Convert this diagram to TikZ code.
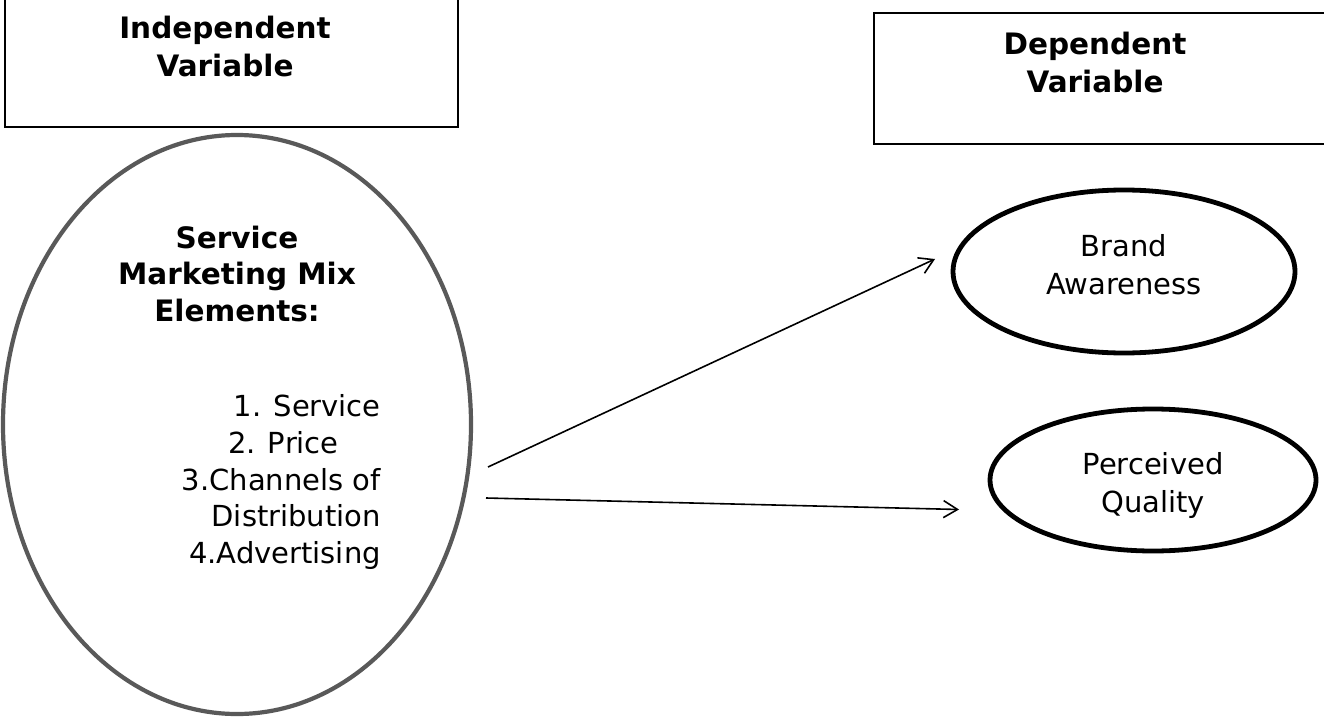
\documentclass[tikz,border=0pt]{standalone}
\usepackage{fontspec}
\setmainfont{DejaVu Sans}
\usetikzlibrary{shapes.geometric,arrows.meta}
\tikzset{
  hdrbox/.style={draw=black, line width=2pt, rectangle, inner sep=0pt},
  mixell/.style={draw=black!65, line width=4.2pt, ellipse, inner sep=0pt},
  depell/.style={draw=black, line width=4.8pt, ellipse, inner sep=0pt},
  hdrtext/.style={align=center, inner sep=0pt, font=\fontsize{29.5}{38}\selectfont\bfseries},
  bodytext/.style={align=center, inner sep=0pt, font=\fontsize{29}{38}\selectfont},
  listtext/.style={align=right, inner sep=0pt, font=\fontsize{29}{36.75}\selectfont},
  link/.style={draw=black, line width=1.6pt, -{Straight Barb[length=14pt,width=17pt,line width=1.6pt]}}
}
\begin{document}
\begin{tikzpicture}[x=1pt,y=-1pt]
\useasboundingbox (0,0) rectangle (1324,722);
\clip (0,0) rectangle (1324,722);
\fill[white] (0,0) rectangle (1324,722);
% header boxes
\node[hdrbox, minimum width=453pt, minimum height=150pt, anchor=south west] (ib) at (4,128) {};
\node[hdrbox, minimum width=470pt, minimum height=131pt, anchor=north west] (db) at (873,12) {};
\node[hdrtext] (ibt) at (225,46.5) {Independent\\Variable};
\node[hdrtext] (dbt) at (1095,62.5) {Dependent\\Variable};
% left ellipse
\node[mixell, minimum width=468pt, minimum height=579pt] (mix) at (237,424.5) {};
\node[hdrtext, font=\fontsize{29.5}{36.5}\selectfont\bfseries] (mixt) at (237,274) {Service\\Marketing Mix\\Elements:};
\node[listtext, anchor=east] (list) at (381,482) {1. Service\\2. Price\hbox to 1.45em{}\\3.Channels of\\Distribution\\4.Advertising};
% dependent ellipses
\node[depell, minimum width=342pt, minimum height=163pt] (ba) at (1124,271.5) {};
\node[bodytext] (bat) at (1124,264.5) {Brand\\Awareness};
\node[depell, minimum width=326pt, minimum height=142pt] (pq) at (1153,480) {};
\node[bodytext] (pqt) at (1153,485.5) {Perceived\\Quality};
% connectors
\coordinate (s1) at (488,467);
\coordinate (e1) at (935,259);
\coordinate (s2) at (486,498);
\coordinate (e2) at (959,509.5);
\draw[link] (s1) -- (e1);
\draw[link] (s2) -- (e2);
\end{tikzpicture}
\end{document}
